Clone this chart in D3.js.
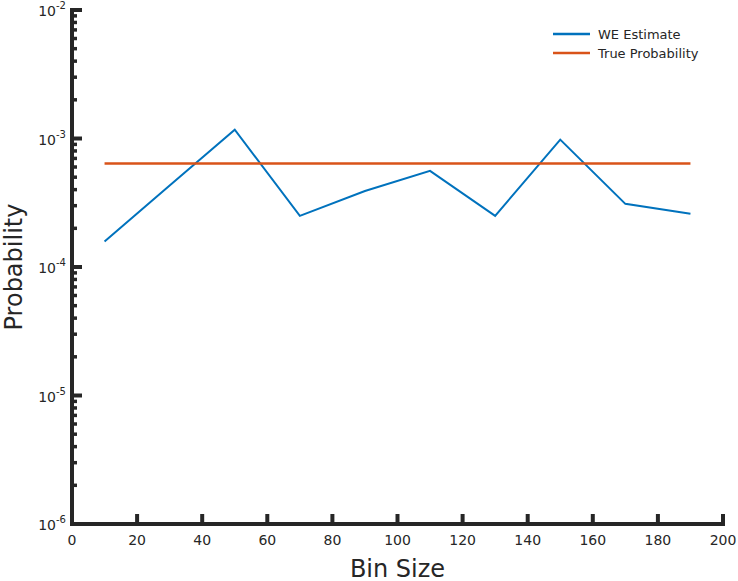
<!DOCTYPE html>
<html>
<head>
<meta charset="UTF-8">
<style>
  body { margin: 0; background: white; }
  text { font-family: "DejaVu Sans", sans-serif; fill: #262626; }
</style>
</head>
<body>
<svg width="738" height="581"></svg>
<script src="https://d3js.org/d3.v7.min.js"></script>
<script>
  // data
  let binSize = [10, 30, 50, 70, 90, 110, 130, 150, 170, 190];
  let weEstimate = [1.58e-4, 4.3e-4, 1.17e-3, 2.5e-4, 3.9e-4, 5.6e-4, 2.5e-4, 9.8e-4, 3.1e-4, 2.6e-4];
  let trueProb = 6.4e-4;
  let xTicks = [0, 20, 40, 60, 80, 100, 120, 140, 160, 180, 200];
  let yExps = [-6, -5, -4, -3, -2];

  let svg = d3.select("svg");
  let mLeft = 72, mRight = 723, mTop = 10, mBottom = 524;

  let x = d3.scaleLinear().domain([0, 200]).range([mLeft, mRight]);
  let y = d3.scaleLog().domain([1e-6, 1e-2]).range([mBottom, mTop]);

  let ax = svg.append("g").attr("stroke", "#262626");

  // minor log ticks
  let minors = [];
  yExps.slice(0, -1).forEach(e => {
    for (let k = 2; k <= 9; k++) minors.push(k * Math.pow(10, e));
  });
  ax.selectAll(".minor").data(minors).enter().append("line")
    .attr("x1", mLeft).attr("x2", mLeft + 5)
    .attr("y1", d => y(d)).attr("y2", d => y(d))
    .attr("stroke-width", 3.5);
  ax.selectAll(".major").data(yExps).enter().append("line")
    .attr("x1", mLeft).attr("x2", mLeft + 10)
    .attr("y1", d => y(Math.pow(10, d))).attr("y2", d => y(Math.pow(10, d)))
    .attr("stroke-width", 4);
  ax.selectAll(".xt").data(xTicks).enter().append("line")
    .attr("x1", d => x(d)).attr("x2", d => x(d))
    .attr("y1", mBottom).attr("y2", mBottom - 10)
    .attr("stroke-width", 4);

  ax.append("line").attr("x1", mLeft).attr("x2", mLeft)
    .attr("y1", mTop - 2).attr("y2", mBottom + 2).attr("stroke-width", 4);
  ax.append("line").attr("x1", mLeft - 2).attr("x2", mRight + 2)
    .attr("y1", mBottom).attr("y2", mBottom).attr("stroke-width", 4);

  // tick labels
  svg.selectAll(".xl").data(xTicks).enter().append("text")
    .attr("x", d => x(d)).attr("y", mBottom + 21)
    .attr("text-anchor", "middle").attr("font-size", 14)
    .text(d => d);
  let yl = svg.selectAll(".yl").data(yExps).enter().append("text")
    .attr("x", mLeft - 6).attr("y", d => y(Math.pow(10, d)) + 6)
    .attr("text-anchor", "end").attr("font-size", 14);
  yl.append("tspan").text("10");
  yl.append("tspan").attr("font-size", 10).attr("dy", -7).text(d => d);

  // axis titles
  svg.append("text").attr("x", x(100)).attr("y", 577)
    .attr("text-anchor", "middle").attr("font-size", 24).text("Bin Size");
  svg.append("text").attr("transform", "translate(22," + (mTop + mBottom) / 2 + ") rotate(-90)")
    .attr("text-anchor", "middle").attr("font-size", 24).text("Probability");

  // series
  let line = d3.line().x((d, i) => x(binSize[i])).y(d => y(d));
  svg.append("path").datum(weEstimate).attr("d", line)
    .attr("fill", "none").attr("stroke", "#0072BD").attr("stroke-width", 2);
  svg.append("line")
    .attr("x1", x(binSize[0])).attr("x2", x(binSize[binSize.length - 1]))
    .attr("y1", y(trueProb)).attr("y2", y(trueProb))
    .attr("stroke", "#D95319").attr("stroke-width", 2.5);

  // legend
  let legend = [["WE Estimate", "#0072BD"], ["True Probability", "#D95319"]];
  let lg = svg.selectAll(".lg").data(legend).enter().append("g")
    .attr("transform", (d, i) => "translate(553," + (34 + i * 19) + ")");
  lg.append("line").attr("x1", 0).attr("x2", 37)
    .attr("stroke", d => d[1]).attr("stroke-width", 2.5);
  lg.append("text").attr("x", 45).attr("y", 4.5).attr("font-size", 13)
    .text(d => d[0]);
</script>
</body>
</html>
